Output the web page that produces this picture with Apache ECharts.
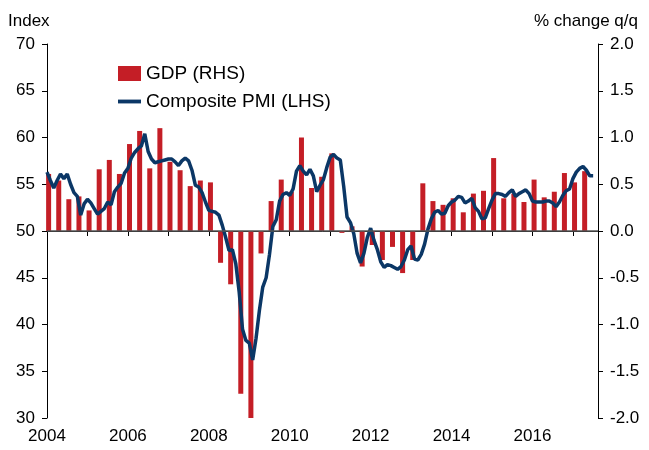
<!DOCTYPE html>
<html>
<head>
<meta charset="utf-8">
<script src="https://cdn.jsdelivr.net/npm/echarts@6/dist/echarts.min.js"></script>
<style>
  html, body { margin: 0; padding: 0; background: #fff; }
  #chart { width: 649px; height: 450px; }
</style>
</head>
<body>
<div id="chart"></div>
<script>
// composite PMI, monthly from Jan 2004 (LHS)
var pmiStart = 2004;
var pmi = [
  56.3, 55.4, 54.6, 55.4, 56.1, 55.6, 56.1, 55.0, 54.1, 53.7, 51.7, 52.9,
  53.4, 53.0, 52.4, 51.8, 52.1, 52.4, 53.1, 52.8, 54.2, 54.7, 55.1, 56.2,
  56.7, 57.8, 58.4, 58.8, 59.1, 60.4, 58.5, 57.7, 57.3, 57.4, 57.5, 57.6,
  57.7, 57.7, 57.4, 57.0, 57.5, 57.8, 57.5, 56.5, 54.9, 54.7, 54.1, 53.1,
  52.2, 52.1, 52.0, 51.7, 50.6, 49.3, 47.9, 48.0, 46.5, 43.5, 39.5, 38.3,
  38.0, 36.2, 38.5, 41.5, 44.0, 45.0, 47.5, 50.5, 51.2, 53.2, 53.9, 54.1,
  53.8, 54.5, 56.4, 57.0, 56.4, 56.0, 56.6, 55.9, 54.2, 54.9, 55.5, 56.8,
  57.9, 58.2, 57.8, 57.6, 54.8, 51.5, 50.9, 49.7, 47.6, 46.6, 47.6, 49.3,
  50.3, 49.0, 48.0, 46.7, 46.1, 46.4, 46.3, 46.1, 45.9, 46.2, 46.9, 48.0,
  48.4, 47.0, 46.9, 47.5, 48.6, 50.2, 51.3, 52.0, 52.2, 51.8, 51.9, 52.7,
  53.1, 53.3, 53.7, 53.6, 53.0, 53.2, 53.5, 52.5, 52.1, 51.3, 51.4, 52.4,
  53.3, 54.0, 54.0, 53.9, 53.7, 54.1, 54.4, 53.7, 54.0, 54.2, 54.4, 54.0,
  53.2, 53.1, 53.1, 53.1, 53.2, 53.2, 53.0, 52.6, 53.1, 53.8, 54.3, 54.5,
  55.6, 56.3, 56.7, 56.9, 56.5, 55.9, 55.9
];

// GDP % change q/q, quarterly from 2004 Q1 (RHS)
var gdpStart = 2004;
var gdp = [
  0.61, 0.54, 0.34, 0.37, 0.22, 0.66, 0.76, 0.61, 0.93, 1.07, 0.67, 1.10,
  0.74, 0.65, 0.48, 0.54, 0.52, -0.34, -0.57, -1.74, -2.0, -0.24, 0.32, 0.55,
  0.42, 1.00, 0.46, 0.58, 0.83, -0.02, 0.05, -0.38, -0.15, -0.31, -0.17, -0.45,
  -0.31, 0.51, 0.32, 0.28, 0.35, 0.20, 0.40, 0.43, 0.78, 0.35, 0.40, 0.31,
  0.55, 0.36, 0.42, 0.62, 0.52, 0.64
];

var yearTicks = [2004, 2005, 2006, 2007, 2008, 2009, 2010, 2011, 2012, 2013, 2014, 2015, 2016, 2017];
var yearLabels = [2004, 2006, 2008, 2010, 2012, 2014, 2016];

var pmiData = pmi.map(function (v, i) { return [pmiStart + i / 12, v]; });
// bars sit at the first month of each quarter
var gdpData = gdp.map(function (v, i) { return [gdpStart + i / 4 + 0.04, v]; });

var font = 'Liberation Sans';
var chart = echarts.init(document.getElementById('chart'));
var option = {
  animation: false,
  textStyle: { fontFamily: font },
  title: [
    { text: 'Index', left: 3, top: 8, textStyle: { fontFamily: font, fontSize: 17, fontWeight: 'normal', color: '#000' } },
    { text: '% change q/q', right: 6, top: 8, textStyle: { fontFamily: font, fontSize: 17, fontWeight: 'normal', color: '#000' } }
  ],
  legend: {
    orient: 'vertical',
    left: 113,
    top: 59,
    itemWidth: 23,
    itemHeight: 15,
    itemGap: 9,
    itemTextGap: 3,
    textStyle: { fontFamily: font, fontSize: 19, color: '#000' },
    data: [
      { name: 'GDP (RHS)', icon: 'rect' },
      { name: 'Composite PMI (LHS)', icon: 'path://M0,0L24,0L24,4L0,4Z' }
    ]
  },
  grid: { left: 47, right: 51, top: 44, bottom: 32 },
  xAxis: {
    type: 'value',
    min: 2004,
    max: 2017.62,
    splitLine: { show: false },
    axisLine: { lineStyle: { color: '#000', width: 1 } },
    axisTick: { length: 5, customValues: yearTicks, lineStyle: { color: '#000' } },
    axisLabel: {
      customValues: yearLabels, color: '#000', fontSize: 17, margin: 10, fontFamily: font,
      formatter: function (v) { return String(v); }
    }
  },
  yAxis: [
    {
      type: 'value', min: 30, max: 70, interval: 5, position: 'left',
      splitLine: { show: false },
      axisLine: { show: true, lineStyle: { color: '#000', width: 1 } },
      axisTick: { show: true, length: 5, lineStyle: { color: '#000' } },
      axisLabel: { color: '#000', fontSize: 17, margin: 12, fontFamily: font }
    },
    {
      type: 'value', min: -2, max: 2, interval: 0.5, position: 'right',
      splitLine: { show: false },
      axisLine: { show: true, lineStyle: { color: '#000', width: 1 } },
      axisTick: { show: true, length: 5, lineStyle: { color: '#000' } },
      axisLabel: {
        color: '#000', fontSize: 17, margin: 12, fontFamily: font,
        formatter: function (v) { return v.toFixed(1); }
      }
    }
  ],
  series: [
    {
      name: 'GDP (RHS)',
      type: 'bar',
      yAxisIndex: 1,
      data: gdpData,
      barWidth: 5,
      itemStyle: { color: '#c41e26' },
      markLine: {
        silent: true,
        symbol: 'none',
        label: { show: false },
        lineStyle: { color: '#555', width: 1.5, type: 'solid' },
        data: [{ yAxis: 0 }]
      }
    },
    {
      name: 'Composite PMI (LHS)',
      type: 'line',
      yAxisIndex: 0,
      data: pmiData,
      symbol: 'none',
      lineStyle: { color: '#0b3766', width: 3.5 },
      itemStyle: { color: '#0b3766' }
    }
  ]
};
chart.setOption(option);
</script>
</body>
</html>
